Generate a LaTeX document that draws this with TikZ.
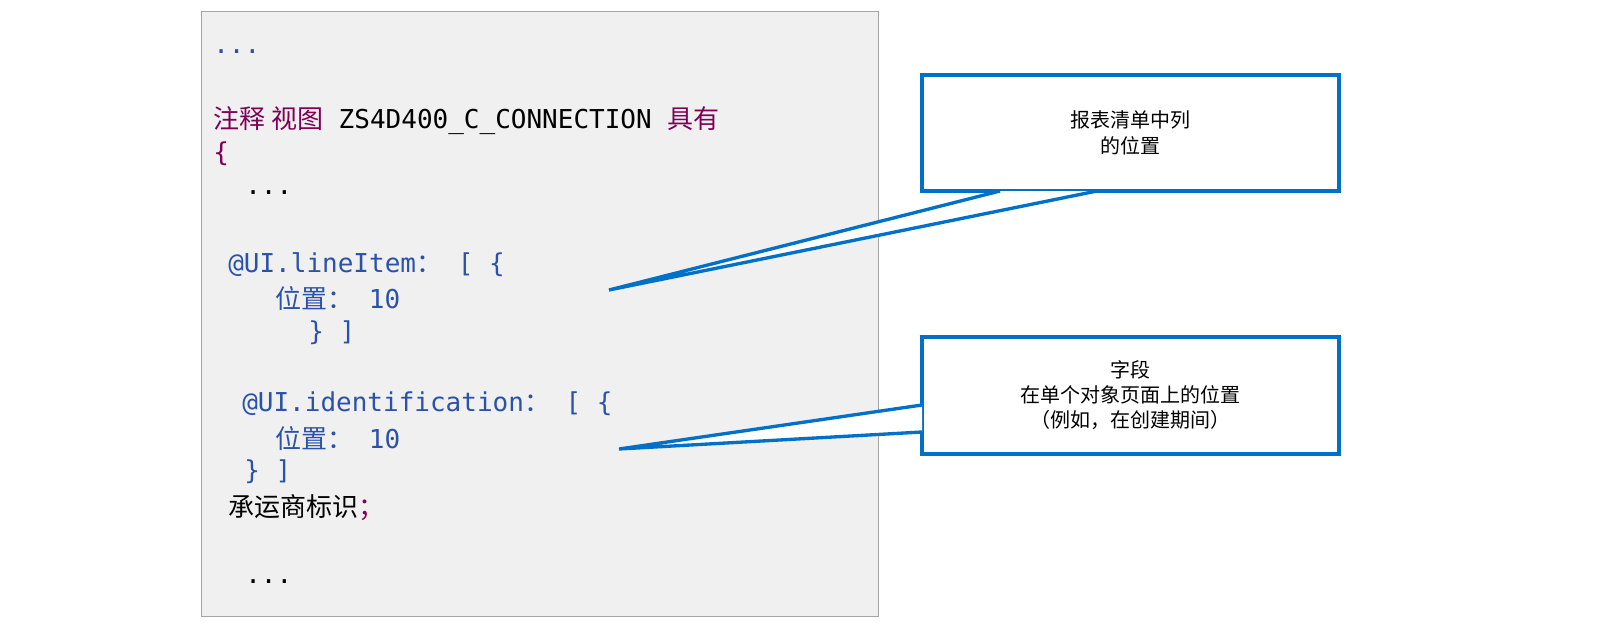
\documentclass[tikz,border=0pt]{standalone}
\usepackage{fontspec}
\newfontfamily\mono{DejaVu Sans Mono}
\newfontfamily\cjk{Noto Sans CJK SC}
\newcommand{\zh}[1]{{\cjk #1}}
\definecolor{kw}{HTML}{7F0055}
\definecolor{an}{HTML}{2A52A8}
\definecolor{cb}{HTML}{0070C8}
\definecolor{bg}{HTML}{F0F0F0}
\begin{document}
\begin{tikzpicture}[x=0.75pt,y=-0.75pt,
  code/.style={anchor=west,inner sep=0pt,font=\mono\fontsize{19.5}{22}\selectfont},
  callout/.style={draw=cb,line width=2.5pt,fill=white},
  ctext/.style={align=center,font=\cjk\fontsize{15}{19}\selectfont,text=black}]
\useasboundingbox (0,0) rectangle (1600,640);
\fill[white] (0,0) rectangle (1600,640);
\node[draw=gray!70,fill=bg,line width=0.9pt,minimum width=677*0.75pt,minimum height=605*0.75pt,anchor=north west,inner sep=0pt] (box) at (201,11) {};
\node[code,text=an] (d1) at (213,52) {...};
\node[code,text=kw] (l1) at (213,121) {\zh{注释 视图} {\color{black}ZS4D400\_C\_CONNECTION} \zh{具有}};
\node[code,text=kw] (br) at (213,154) {\{};
\node[code,text=black] (d2) at (245,193) {...};
\node[code,text=an] (li) at (228,265) {@UI.lineItem\zh{：} [ \{};
\node[code,text=an] (p1) at (275,298) {\zh{位置：} 10};
\node[code,text=an] (c1) at (308,333) {\} ]};
\node[code,text=an] (id) at (242,404) {@UI.identification\zh{：} [ \{};
\node[code,text=an] (p2) at (275,438) {\zh{位置：} 10};
\node[code,text=an] (c2) at (244,472) {\} ]};
\node[code,text=black] (cr) at (228,508) {\zh{承运商标识{\color{kw}；}}};
\node[code,text=black] (d3) at (245,582) {...};
% callout 1
\coordinate (t1) at (609,290);
\draw[callout] (922,75) rectangle (1339,191);
\node[ctext] (n1) at (1130,133) {报表清单中列\\的位置};
\draw[cb,line width=2.5pt,fill=white] (1000,191) -- (t1) -- (1097,191);
% callout 2
\coordinate (t2) at (619,449);
\draw[callout] (922,337) rectangle (1339,454);
\node[ctext] (n2) at (1130,395) {字段\\在单个对象页面上的位置\\（例如，在创建期间）};
\draw[cb,line width=2.5pt,fill=white] (922,405) -- (t2) -- (922,432);
\end{tikzpicture}
\end{document}
